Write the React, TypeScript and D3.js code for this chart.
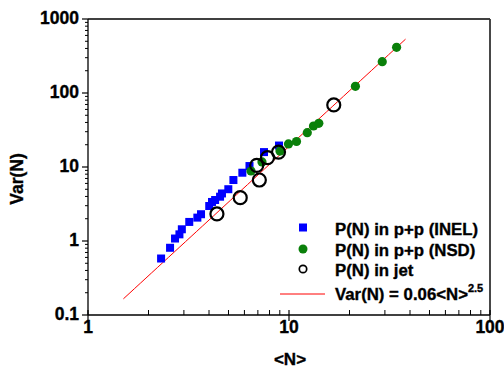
import React from "react";
import * as d3 from "d3";

const inelN = [2.31, 2.56, 2.71, 2.85, 2.93, 3.19, 3.5, 3.65, 4.01, 4.14, 4.29, 4.54, 4.64, 4.99, 5.29, 5.86, 6.36, 7.51, 8.92];
const inelV = [0.58, 0.81, 1.08, 1.23, 1.44, 1.81, 2.07, 2.3, 2.97, 3.37, 3.58, 3.97, 4.39, 5.01, 6.67, 8.37, 10.3, 15.9, 19.5];

const nsdN = [6.47, 7.34, 9.02, 9.94, 10.9, 12.33, 13.24, 14.07, 21.4, 29.1, 34.3];
const nsdV = [8.83, 11.7, 16.4, 20.5, 22.1, 29.1, 35.8, 38.9, 123, 265, 414];

const jetN = [4.38, 5.72, 7.12, 6.91, 7.82, 8.87, 16.7];
const jetV = [2.32, 3.85, 6.67, 10.5, 13.4, 15.9, 68.9];

const fitA = 0.06;
const fitB = 2.5;
const fitRange = [1.5, 38];

const xTicks = [1, 10, 100];
const yTicks = [0.1, 1, 10, 100, 1000];
const xTickLabels = ["1", "10", "100"];
const yTickLabels = ["0.1", "1", "10", "100", "1000"];

const legendLabels = ["P(N) in p+p (INEL)", "P(N) in p+p (NSD)", "P(N) in jet"];

const FONT = "'Liberation Sans', Arial, Helvetica, sans-serif";

export default function App() {
  const x = d3.scaleLog().domain([1, 100]).range([88, 490]);
  const y = d3.scaleLog().domain([0.1, 1000]).range([315, 19]);

  const minorX: number[] = [];
  for (let d = 1; d < 100; d *= 10) for (let k = 2; k <= 9; k++) minorX.push(d * k);
  const minorY: number[] = [];
  for (let d = 0.1; d < 999; d *= 10) for (let k = 2; k <= 9; k++) minorY.push(d * k);

  const fitPts: [number, number][] = [];
  const nSteps = 50;
  for (let i = 0; i <= nSteps; i++) {
    const lx = Math.log10(fitRange[0]) + (Math.log10(fitRange[1]) - Math.log10(fitRange[0])) * (i / nSteps);
    const n = Math.pow(10, lx);
    fitPts.push([n, fitA * Math.pow(n, fitB)]);
  }
  const line = d3.line<[number, number]>().x(d => x(d[0])).y(d => y(d[1]));

  const sq = 8;
  const legX = 303;
  const textX = 335;
  const txtStroke = { stroke: "#000", strokeWidth: 0.35 } as any;

  return (
    <svg width={504} height={371} style={{ position: "absolute", left: 0, top: 0, background: "#fff" }}
      fontFamily={FONT} fontWeight="bold">
      <rect x={0} y={0} width={504} height={371} fill="#fff" />
      {/* frame */}
      <line x1={88} y1={19} x2={490} y2={19} stroke="#000" strokeWidth={1.3} />
      <line x1={490} y1={19} x2={490} y2={315} stroke="#333" strokeWidth={1.8} />
      <line x1={88} y1={19} x2={88} y2={315} stroke="#000" strokeWidth={1.3} />
      <line x1={88} y1={315} x2={490} y2={315} stroke="#000" strokeWidth={1.3} />
      {/* y ticks */}
      {minorY.map((v, i) => (
        <line key={"my" + i} x1={85} x2={88} y1={y(v)} y2={y(v)} stroke="#000" strokeWidth={1} />
      ))}
      {yTicks.map((v, i) => (
        <g key={"yt" + i}>
          <line x1={82} x2={88} y1={y(v)} y2={y(v)} stroke="#000" strokeWidth={1.2} />
          <text x={79} y={y(v) + 5} textAnchor="end" fontSize={17.5} {...txtStroke}>{yTickLabels[i]}</text>
        </g>
      ))}
      {/* x ticks */}
      {minorX.map((v, i) => (
        <line key={"mx" + i} x1={x(v)} x2={x(v)} y1={310} y2={315} stroke="#000" strokeWidth={1} />
      ))}
      {xTicks.map((v, i) => (
        <g key={"xt" + i}>
          <line x1={x(v)} x2={x(v)} y1={310} y2={321} stroke="#000" strokeWidth={1.2} />
          <text x={x(v)} y={333} textAnchor="middle" fontSize={17.5} {...txtStroke}>{xTickLabels[i]}</text>
        </g>
      ))}
      {/* axis titles */}
      <text x={290} y={365} textAnchor="middle" fontSize={17} {...txtStroke}>&lt;N&gt;</text>
      <text transform={`translate(23,179) rotate(-90)`} textAnchor="middle" fontSize={17.5} {...txtStroke}>Var(N)</text>
      {/* fit line */}
      <path d={line(fitPts) || ""} fill="none" stroke="#ff0000" strokeWidth={1} />
      {/* INEL squares */}
      {inelN.map((n, i) => (
        <rect key={"s" + i} x={x(n) - sq / 2} y={y(inelV[i]) - sq / 2} width={sq} height={sq} fill="#0000ff" />
      ))}
      {/* NSD circles */}
      {nsdN.map((n, i) => (
        <circle key={"g" + i} cx={x(n)} cy={y(nsdV[i])} r={4.6} fill="#0a800a" />
      ))}
      {/* jet open circles */}
      {jetN.map((n, i) => (
        <circle key={"c" + i} cx={x(n)} cy={y(jetV[i])} r={6.5} fill="none" stroke="#000" strokeWidth={2.2} />
      ))}
      {/* legend */}
      <rect x={legX - 4} y={227.5 - 4} width={8} height={8} fill="#0000ff" />
      <circle cx={legX} cy={249} r={4.5} fill="#0a800a" />
      <circle cx={legX} cy={269} r={3.7} fill="#fff" stroke="#000" strokeWidth={1.7} />
      <line x1={280} x2={325} y1={294} y2={294} stroke="#ff0000" strokeWidth={1} />
      <text x={textX} y={235} fontSize={16.8} {...txtStroke}>{legendLabels[0]}</text>
      <text x={textX} y={255.5} fontSize={16.8} {...txtStroke}>{legendLabels[1]}</text>
      <text x={textX} y={276} fontSize={16.8} {...txtStroke}>{legendLabels[2]}</text>
      <text x={textX} y={299.5} fontSize={16.8} {...txtStroke}>
        {`Var(N) = ${fitA}<N>`}
        <tspan fontSize={11} dy={-8}>{fitB}</tspan>
      </text>
    </svg>
  );
}
